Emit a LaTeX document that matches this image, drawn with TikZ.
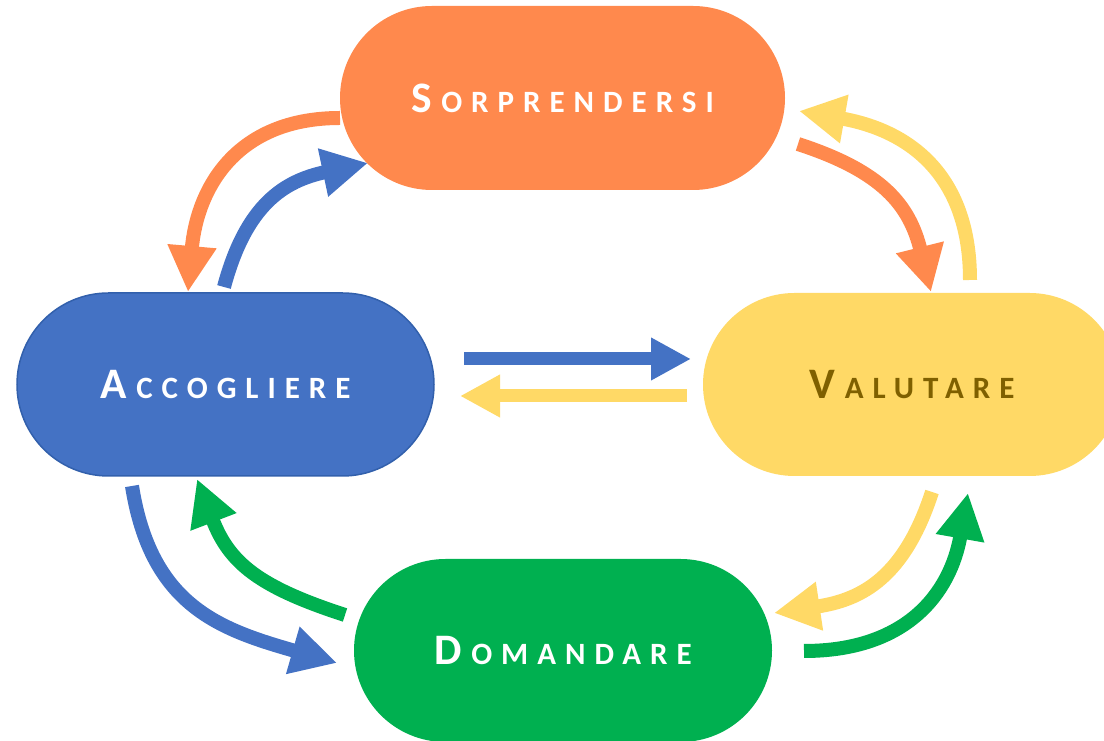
\documentclass[tikz,border=0pt]{standalone}
\usepackage{fontspec}
\setmainfont{Carlito}
\usetikzlibrary{arrows.meta}
\definecolor{cOrange}{RGB}{255,137,77}
\definecolor{cYellow}{RGB}{255,217,102}
\definecolor{cBlue}{RGB}{68,114,196}
\definecolor{cGreen}{RGB}{0,176,80}
\definecolor{cOlive}{RGB}{127,96,0}
\definecolor{cBlueEdge}{RGB}{50,96,172}
\newcommand\pilllabel[2]{\bfseries\addfontfeature{LetterSpace=29}{\fontsize{43.5}{44}\selectfont #1}\kern9.5pt{\fontsize{31}{31}\selectfont #2}}
\tikzset{
  pill/.style={rectangle, rounded corners=91.5pt, minimum height=183pt, inner sep=0pt},
  curvedarrow/.style={line width=14pt, -{Triangle[length=46pt,width=46pt]}},
  straightarrow/.style={line width=13pt, -{Triangle[length=40pt,width=40pt]}}
}
\begin{document}
\begin{tikzpicture}[x=1pt,y=1pt]
\useasboundingbox (0,0) rectangle (1104,741);
\clip (0,0) rectangle (1104,741);
% nodes
\node[pill, fill=cOrange, text=white, minimum width=445pt, minimum height=184pt, rounded corners=92pt] (S) at (562.5,643) {\pilllabel{S}{ORPRENDERSI}};
\node[pill, fill=cBlue, draw=cBlueEdge, line width=1.5pt, text=white, minimum width=417pt] (A) at (225.5,356.5) {\pilllabel{A}{CCOGLIERE}};
\node[pill, fill=cYellow, text=cOlive, minimum width=418pt] (V) at (912,356.5) {\pilllabel{V}{ALUTARE}};
\node[pill, fill=cGreen, text=white, minimum width=418pt] (D) at (563,90.5) {\pilllabel{D}{OMANDARE}};
% arrow end points
\coordinate (sa1) at (340,623);   \coordinate (sa2) at (188,449);
\coordinate (as1) at (224,454);   \coordinate (as2) at (368,578);
\coordinate (sv1) at (798,597);   \coordinate (sv2) at (931,449);
\coordinate (vs1) at (970,461);   \coordinate (vs2) at (799,630);
\coordinate (av1) at (464,382);   \coordinate (av2) at (691,382);
\coordinate (va1) at (687,345);   \coordinate (va2) at (460,345);
\coordinate (ad1) at (132,255);   \coordinate (ad2) at (337,78);
\coordinate (da1) at (345,126);   \coordinate (da2) at (197,262);
\coordinate (vd1) at (932,249);   \coordinate (vd2) at (774,128);
\coordinate (dv1) at (804,90);    \coordinate (dv2) at (968,248);
% arrows
\draw[curvedarrow, cOrange] (sa1) to[out=180, in=85, looseness=1.15] (sa2);
\draw[curvedarrow, cBlue] (as1) to[out=75, in=192, looseness=1.15] (as2);
\draw[curvedarrow, cOrange] (sv1) to[out=-18, in=104, looseness=1.15] (sv2);
\draw[curvedarrow, cYellow] (vs1) to[out=90, in=-10, looseness=1.15] (vs2);
\draw[straightarrow, cBlue] (av1) -- (av2);
\draw[straightarrow, cYellow] (va1) -- (va2);
\draw[curvedarrow, cBlue] (ad1) to[out=-81, in=164, looseness=1.15] (ad2);
\draw[curvedarrow, cGreen] (da1) to[out=162, in=-69, looseness=1.15] (da2);
\draw[curvedarrow, cYellow] (vd1) to[out=-108, in=8.5, looseness=1.15] (vd2);
\draw[curvedarrow, cGreen] (dv1) to[out=0, in=-100, looseness=1.15] (dv2);
\end{tikzpicture}
\end{document}
